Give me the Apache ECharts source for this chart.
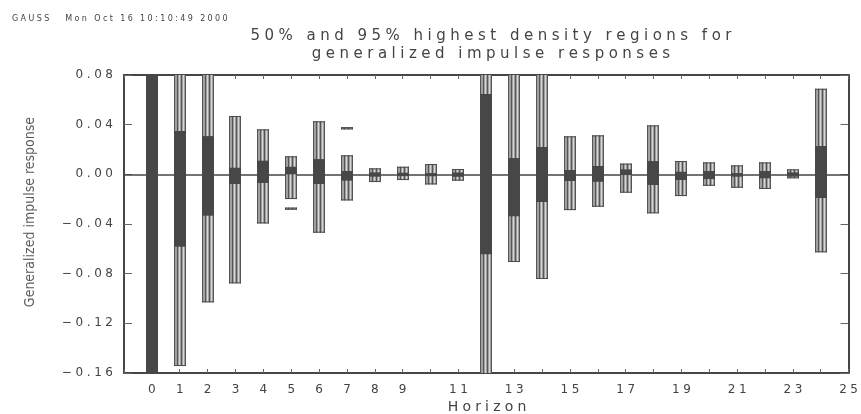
<!DOCTYPE html>
<html>
<head>
<meta charset="utf-8">
<script src="https://cdn.jsdelivr.net/npm/echarts@6/dist/echarts.min.js"></script>
<style>
  html, body { margin: 0; padding: 0; background: #fff; }
  #chart { width: 861px; height: 414px; }
</style>
</head>
<body>
<div id="chart"></div>
<script>
// Horizons of the generalized impulse responses
const horizons = [0, 1, 2, 3, 4, 5, 6, 7, 8, 9, 10, 11, 12, 13, 14, 15, 16, 17, 18, 19, 20, 21, 22, 23, 24];

// 95% highest density region (main interval per horizon)
const hdr95Lower = [-0.30, -0.1544, -0.1031, -0.0878, -0.0395, -0.0199, -0.0470, -0.0210, -0.0062, -0.0046,
                    -0.0081, -0.0051, -0.2000, -0.0706, -0.0843, -0.0288, -0.0261, -0.0148, -0.0314, -0.0175,
                    -0.0092, -0.0108, -0.0118, -0.0032, -0.0628];
const hdr95Upper = [0.22, 0.130, 0.120, 0.0470, 0.0362, 0.0145, 0.0427, 0.0153, 0.0048, 0.0061,
                    0.0083, 0.0043, 0.100, 0.085, 0.090, 0.0306, 0.0314, 0.0086, 0.0394, 0.0107,
                    0.0096, 0.0072, 0.0096, 0.0040, 0.0689];

// Separate pieces of the 95% region (disjoint intervals)
const hdr95ExtraH = [5, 7];
const hdr95ExtraLower = [-0.0285, 0.0362];
const hdr95ExtraUpper = [-0.0268, 0.0380];

// 50% highest density region
const hdr50Lower = [-0.19, -0.0583, -0.0333, -0.0078, -0.0070, 0.0000, -0.0078, -0.0051, -0.0019, -0.0014,
                    -0.0015, -0.0020, -0.0644, -0.0338, -0.0223, -0.0054, -0.0060, -0.0006, -0.0086, -0.0046,
                    -0.0038, -0.0019, -0.0032, -0.0019, -0.0191];
const hdr50Upper = [0.11, 0.0348, 0.0308, 0.0053, 0.0110, 0.0061, 0.0123, 0.0027, 0.0016, 0.0013,
                    0.0010, 0.0015, 0.0647, 0.0131, 0.0220, 0.0035, 0.0067, 0.0040, 0.0107, 0.0021,
                    0.0027, 0.0010, 0.0027, 0.0016, 0.0228];

// Axis settings
const Y_MIN = -0.16, Y_MAX = 0.08, Y_STEP = 0.04;
const X_MIN = -1, X_MAX = 25;
const xLabelsShown = [0, 1, 2, 3, 4, 5, 6, 7, 8, 9, 11, 13, 15, 17, 19, 21, 23, 25];

const FRAME = '#454545';
const DARK = '#474747';
const TEXT = '#444';
const BAR_W = 12;

// Spread characters out like a plotter font
function spaced(s, wide) {
  return s.split('').join(wide ? '\u2009\u200A' : '\u2009');
}

const data95 = horizons.map((h, i) => [h, hdr95Lower[i], hdr95Upper[i]]);
hdr95ExtraH.forEach((h, i) => data95.push([h, hdr95ExtraLower[i], hdr95ExtraUpper[i]]));
const data50 = horizons.map((h, i) => [h, hdr50Lower[i], hdr50Upper[i]]);

function clampY(v) { return Math.max(Y_MIN, Math.min(Y_MAX, v)); }

// Hatched box for the 95% region
function render95(params, api) {
  const x = api.value(0);
  const lo = api.value(1), hi = api.value(2);
  const pTop = api.coord([x, clampY(hi)]);
  const pBot = api.coord([x, clampY(lo)]);
  const left = Math.round(pTop[0] - BAR_W / 2);
  const top = pTop[1];
  let h = pBot[1] - pTop[1];
  if (h < 2) h = 2;
  const children = [{
    type: 'rect',
    shape: { x: left, y: top, width: BAR_W, height: h },
    style: { fill: '#a0a0a0' }
  }];
  const darkCols = [0.5, 3.5, 7.5, 11.5];
  const lightCols = [5.5, 9.5];
  darkCols.forEach(o => children.push({
    type: 'line', shape: { x1: left + o, y1: top, x2: left + o, y2: top + h },
    style: { stroke: '#555', lineWidth: 1 }
  }));
  lightCols.forEach(o => children.push({
    type: 'line', shape: { x1: left + o, y1: top, x2: left + o, y2: top + h },
    style: { stroke: '#d6d6d6', lineWidth: 1 }
  }));
  if (hi <= Y_MAX) children.push({
    type: 'line', shape: { x1: left, y1: top + 0.5, x2: left + BAR_W, y2: top + 0.5 },
    style: { stroke: '#4a4a4a', lineWidth: 1 }
  });
  if (lo >= Y_MIN) children.push({
    type: 'line', shape: { x1: left, y1: top + h - 0.5, x2: left + BAR_W, y2: top + h - 0.5 },
    style: { stroke: '#4a4a4a', lineWidth: 1 }
  });
  return { type: 'group', children };
}

// Solid box for the 50% region
function render50(params, api) {
  const x = api.value(0);
  const pTop = api.coord([x, clampY(api.value(2))]);
  const pBot = api.coord([x, clampY(api.value(1))]);
  const left = Math.round(pTop[0] - BAR_W / 2);
  return {
    type: 'rect',
    shape: { x: left, y: pTop[1], width: BAR_W, height: Math.max(2, pBot[1] - pTop[1]) },
    style: { fill: DARK }
  };
}

const labelFont = { fontFamily: 'DejaVu Sans', fontSize: 12, color: TEXT };

const chart = echarts.init(document.getElementById('chart'), null, { renderer: 'canvas' });
chart.setOption({
  animation: false,
  backgroundColor: '#fff',
  grid: { left: 124, right: 12, top: 75, bottom: 41, show: false },
  title: [
    {
      text: spaced('50% and 95% highest density regions for', true) + '\n' +
            spaced('generalized impulse responses', true),
      left: 486, top: 22, textAlign: 'center',
      textStyle: { fontFamily: 'DejaVu Sans', fontWeight: 'normal', fontSize: 15, color: TEXT, lineHeight: 18 }
    },
    {
      text: spaced('GAUSS', true) + '\u2003\u2003' + spaced('Mon Oct 16 10:10:49 2000', true),
      left: 7, top: 10,
      textStyle: { fontFamily: 'DejaVu Sans', fontWeight: 'normal', fontSize: 8, color: TEXT }
    }
  ],
  graphic: [
    {
      type: 'text', x: 30, y: 212, rotation: Math.PI / 2,
      style: {
        text: 'Generalized impulse response',
        font: '14px "DejaVu Sans Condensed", "Liberation Sans Narrow", sans-serif',
        fill: '#5a5a5a', textAlign: 'center', textVerticalAlign: 'middle'
      }
    },
    {
      type: 'text', x: 487, y: 407,
      style: {
        text: spaced('Horizon', true),
        font: '14px "DejaVu Sans"', fill: TEXT, textAlign: 'center', textVerticalAlign: 'middle'
      }
    }
  ],
  xAxis: [
    {
      type: 'value', min: X_MIN, max: X_MAX, interval: 1, position: 'bottom',
      axisLine: { show: true, onZero: false, lineStyle: { color: FRAME, width: 2 } },
      axisTick: { show: true, inside: true, length: 4, lineStyle: { color: '#666' } },
      axisLabel: {
        ...labelFont, margin: 11,
        formatter: v => xLabelsShown.indexOf(v) >= 0 ? spaced(String(v), true) : ''
      },
      splitLine: { show: false }
    },
    {
      type: 'value', min: X_MIN, max: X_MAX, interval: 1, position: 'top',
      axisLine: { show: true, onZero: false, lineStyle: { color: FRAME, width: 2 } },
      axisTick: { show: true, inside: true, length: 4, lineStyle: { color: '#666' } },
      axisLabel: { show: false },
      splitLine: { show: false }
    }
  ],
  yAxis: [
    {
      type: 'value', min: Y_MIN, max: Y_MAX, interval: Y_STEP, position: 'left',
      axisLine: { show: true, onZero: false, lineStyle: { color: FRAME, width: 2 } },
      axisTick: { show: true, inside: true, length: 8, lineStyle: { color: '#666' } },
      axisLabel: {
        ...labelFont, margin: 11,
        formatter: v => spaced((v < -1e-9 ? '\u2212' : '') + Math.abs(v).toFixed(2), true)
      },
      splitLine: { show: false }
    },
    {
      type: 'value', min: Y_MIN, max: Y_MAX, interval: Y_STEP, position: 'right',
      axisLine: { show: true, onZero: false, lineStyle: { color: FRAME, width: 2 } },
      axisTick: { show: true, inside: true, length: 8, lineStyle: { color: '#666' } },
      axisLabel: { show: false },
      splitLine: { show: false }
    }
  ],
  series: [
    {
      name: 'HDR 95%', type: 'custom', renderItem: render95, data: data95,
      xAxisIndex: 0, yAxisIndex: 0, z: 3,
      markLine: {
        silent: true, symbol: 'none', label: { show: false },
        lineStyle: { color: '#444', width: 1.5, type: 'solid' },
        data: [{ yAxis: 0 }], z: 2
      }
    },
    {
      name: 'HDR 50%', type: 'custom', renderItem: render50, data: data50,
      xAxisIndex: 0, yAxisIndex: 0, z: 4
    }
  ]
});
</script>
</body>
</html>
